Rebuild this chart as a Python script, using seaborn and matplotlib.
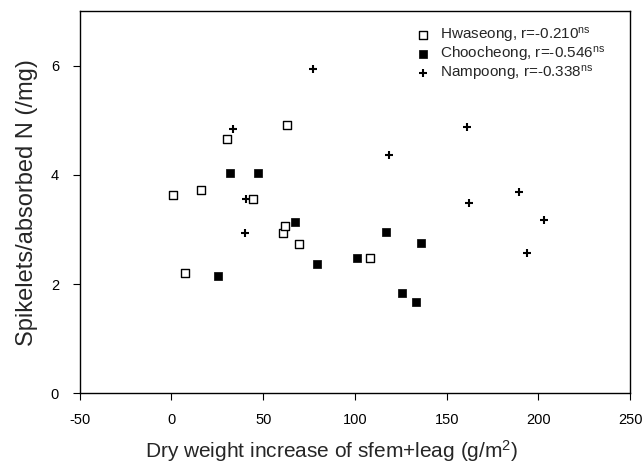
import matplotlib
matplotlib.use("Agg")
import matplotlib.pyplot as plt
import numpy as np
import pandas as pd
import seaborn as sns

# Hwaseong (open squares)
hwa_x = [1.1, 7.5, 16.0, 30.2, 44.7, 60.9, 61.8, 62.9, 69.7, 108.2]
hwa_y = [3.63, 2.21, 3.73, 4.65, 3.55, 2.94, 3.06, 4.92, 2.73, 2.47]

# Choocheong (filled squares)
choo_x = [25.5, 32.0, 47.3, 67.3, 79.5, 101.3, 116.8, 125.9, 133.4, 136.1]
choo_y = [2.14, 4.03, 4.03, 3.13, 2.36, 2.47, 2.96, 1.84, 1.67, 2.76]

# Nampoong (plus)
nam_x = [33.3, 40.0, 40.6, 77.3, 118.4, 161.0, 161.9, 189.4, 193.6, 203.1]
nam_y = [4.85, 2.94, 3.55, 5.95, 4.37, 4.88, 3.48, 3.69, 2.56, 3.17]

labels = ["Hwaseong, r=-0.210$^{ns}$",
          "Choocheong, r=-0.546$^{ns}$",
          "Nampoong, r=-0.338$^{ns}$"]

x_ticks = [-50, 0, 50, 100, 150, 200, 250]
y_ticks = [0, 2, 4, 6]

sns.set_style("ticks")
plt.rcParams['font.family'] = ['Liberation Sans', 'DejaVu Sans']
plt.rcParams['mathtext.default'] = 'regular'
plt.rcParams['axes.unicode_minus'] = False

fig = plt.figure(figsize=(6.43, 4.68), dpi=100)
ax = fig.add_axes([0.124, 0.160, 0.856, 0.816])

df = pd.concat([
    pd.DataFrame({"x": hwa_x, "y": hwa_y, "grp": labels[0]}),
    pd.DataFrame({"x": choo_x, "y": choo_y, "grp": labels[1]}),
    pd.DataFrame({"x": nam_x, "y": nam_y, "grp": labels[2]}),
])

styles = {
    labels[0]: dict(marker="s", s=40, facecolor="white", edgecolor="black", linewidth=1.0),
    labels[1]: dict(marker="s", s=40, color="black", edgecolor="black", linewidth=0.5),
    labels[2]: dict(marker="+", s=36, color="black", linewidth=1.5),
}
for g in labels:
    sub = df[df["grp"] == g]
    sns.scatterplot(data=sub, x="x", y="y", ax=ax, label=g, zorder=3, **styles[g])

ax.set_xlim(-50, 250)
ax.set_ylim(0, 7)
ax.set_xticks(x_ticks)
ax.set_yticks(y_ticks)
ax.tick_params(labelsize=10.5, direction="out", length=5, width=0.8, colors="black")
ax.tick_params(axis="x", pad=9.5)
ax.tick_params(axis="y", pad=10)
for sp in ax.spines.values():
    sp.set_visible(True)
    sp.set_linewidth(1.0)
    sp.set_color("black")

ax.set_xlabel("Dry weight increase of sfem+leag (g/m$^2$)", fontsize=15, labelpad=8)
ax.xaxis.label.set_x(0.458)
ax.set_ylabel("Spikelets/absorbed N (/mg)", fontsize=17, labelpad=9)

ax.legend(loc="upper left", bbox_to_anchor=(0.61, 0.962), frameon=False, fontsize=11,
          handletextpad=0.6, labelspacing=0.0, borderaxespad=0, borderpad=0,
          handlelength=1.0)

fig.savefig("out.png", dpi=100)
